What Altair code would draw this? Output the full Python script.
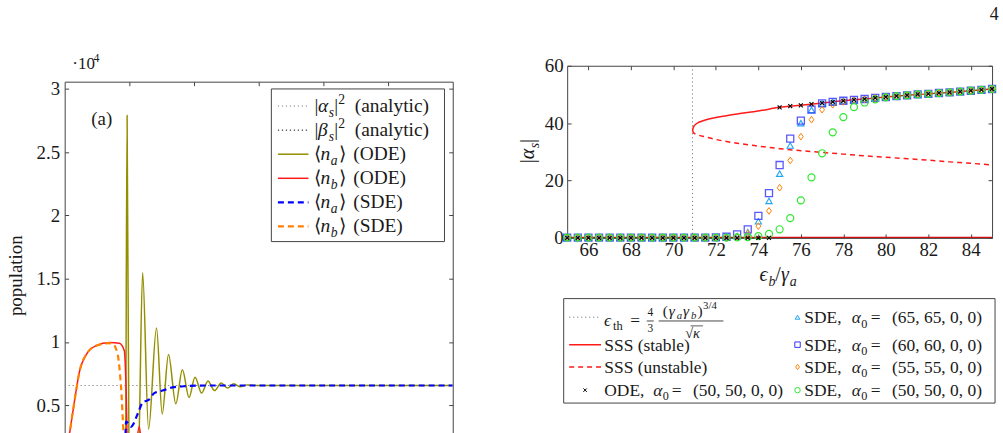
import altair as alt
import pandas as pd

FONT = "Liberation Serif"
INK = "#1a1a1a"
FRAME = "#444444"

# ---------------- left panel (a): populations, units of 1e4 ----------------
T_TICKS = [1, 2, 3, 4, 5]
POP_TICKS = [0.5, 1.0, 1.5, 2.0, 2.5, 3.0]
T_DOMAIN = [0, 6]
POP_DOMAIN = [0.28, 3.058]

t_alpha_an = [0.0, 6.0]
v_alpha_an = [0.655, 0.655]
t_beta_an = [0.0, 6.0]
v_beta_an = [0.12, 0.12]

t_na_ode = [0.0, 0.5, 0.9, 0.94, 0.965, 0.995, 1.06, 1.14, 1.205, 1.297, 1.42, 1.508,
            1.605, 1.718, 1.82, 1.923, 2.015, 2.118, 2.215, 2.318, 2.42, 2.518, 2.615,
            2.715, 2.815, 3.0, 6.0]
v_na_ode = [0.0, 0.0, 0.02, 0.05, 2.79, 0.05, 0.02, 0.12, 1.547, 0.31, 1.11, 0.43,
            0.90, 0.51, 0.78, 0.56, 0.72, 0.595, 0.69, 0.615, 0.675, 0.635, 0.668,
            0.645, 0.66, 0.655, 0.655]

t_nb_ode = [0.0, 0.077, 0.154, 0.231, 0.333, 0.487, 0.692, 0.846, 0.923, 0.949, 0.975,
            1.06, 1.154, 1.22, 1.5, 6.0]
v_nb_ode = [0.0, 0.28, 0.54, 0.77, 0.90, 0.97, 0.995, 0.99, 0.93, 0.64, 0.1,
            0.03, 0.33, 0.03, 0.1, 0.1]

t_na_sde = [0.0, 0.9, 0.93, 0.949, 1.026, 1.128, 1.205, 1.308, 1.385, 1.513, 1.667,
            1.872, 2.2, 6.0]
v_na_sde = [0.0, 0.02, 0.1, 0.37, 0.33, 0.43, 0.52, 0.545, 0.595, 0.615, 0.64,
            0.65, 0.655, 0.655]

t_nb_sde = [0.0, 0.077, 0.154, 0.231, 0.333, 0.487, 0.692, 0.743, 0.82, 0.872, 0.923,
            1.0, 6.0]
v_nb_sde = [0.0, 0.28, 0.54, 0.77, 0.90, 0.97, 0.99, 0.985, 0.90, 0.64, 0.2,
            0.08, 0.1]

# ---------------- right panel: |alpha_s| vs eps_b / gamma_a ----------------
EPS_TICKS = [66, 68, 70, 72, 74, 76, 78, 80, 82, 84]
ALPHA_TICKS = [0, 20, 40, 60]
E_TH = 70.9

eps = [65.0, 65.5, 66.0, 66.5, 67.0, 67.5, 68.0, 68.5, 69.0, 69.5, 70.0, 70.5, 71.0,
       71.5, 72.0, 72.5, 73.0, 73.5, 74.0, 74.5, 75.0, 75.5, 76.0, 76.5, 77.0, 77.5,
       78.0, 78.5, 79.0, 79.5, 80.0, 80.5, 81.0, 81.5, 82.0, 82.5, 83.0, 83.5, 84.0,
       84.5, 85.0]
ode = [0.0] * 20 + [45.5, 45.9, 46.2, 46.6, 47.0, 47.4, 47.8, 48.1, 48.4, 48.8, 49.1,
                    49.4, 49.7, 50.0, 50.2, 50.5, 50.7, 51.0, 51.3, 51.6, 51.9]
sde65 = [0.1] * 15 + [0.2, 0.6, 2.0, 5.8, 12.9, 22.4, 32.2, 40.0, 44.6, 46.8,
                      47.4, 47.8, 48.1, 48.4, 48.8, 49.1, 49.4, 49.7, 50.0, 50.2,
                      50.5, 50.7, 51.0, 51.3, 51.6, 51.9]
sde60 = [0.1] * 14 + [0.2, 0.4, 1.2, 3.0, 7.7, 15.6, 25.4, 34.6, 40.9, 44.7, 46.9,
                      47.4, 47.8, 48.1, 48.4, 48.8, 49.1, 49.4, 49.7, 50.0, 50.2,
                      50.5, 50.7, 51.0, 51.3, 51.6, 51.9]
sde55 = [0.1] * 16 + [0.4, 1.6, 4.1, 9.4, 17.5, 27.0, 35.3, 41.2, 44.7,
                      46.4, 47.4, 47.9, 48.3,
                      48.8, 49.1, 49.4, 49.7, 50.0, 50.2, 50.5, 50.7, 51.0, 51.3, 51.6, 51.9]
sde50 = [0.1] * 16 + [0.2, 0.3, 0.6, 1.4, 3.0, 6.9, 13.1, 21.1, 29.5, 36.8, 42.1, 45.6,
                      47.2, 48.3, 49.0,
                      49.4, 49.7, 50.0, 50.2, 50.5, 50.7, 51.0, 51.3, 51.6, 51.9]

eps_stable = [70.9, 70.95, 71.05, 71.2, 71.5, 72.0, 72.5, 73.0, 74.0, 75.0, 76.0, 77.0,
              78.0, 79.0, 80.0, 81.0, 82.0, 83.0, 84.0, 85.0]
a_stable = [37.5, 38.7, 39.6, 40.3, 41.1, 42.0, 42.6, 43.2, 44.2, 45.5, 46.2, 47.0,
            47.8, 48.4, 49.1, 49.7, 50.2, 50.7, 51.3, 51.9]
eps_unstable = [70.9, 70.95, 71.12, 71.5, 72.0, 73.0, 74.0, 75.0, 76.0, 77.0, 78.0,
                79.0, 80.0, 81.0, 82.0, 83.0, 84.0, 85.0]
a_unstable = [37.5, 36.6, 36.0, 35.2, 34.3, 33.0, 32.0, 31.1, 30.4, 29.8, 29.2,
              28.6, 28.1, 27.6, 27.1, 26.5, 26.0, 25.4]
eps_zero = [65.0, 85.0]
a_zero = [0.0, 0.0]

OLIVE = "#948f00"
RED = "#ff1a1a"
BLUE = "#0000ff"
ORANGE = "#ff8000"
CYAN = "#22a6f2"
SQBLUE = "#3030ff"
GREEN = "#2ee82e"

# ---------------- text helpers ----------------
REG = {' ': .25, '(': .333, ')': .333, ',': .25, '.': .25, '/': .278, '=': .564, '|': .2,
       '·': .25, 'A': .722, 'D': .722, 'E': .611, 'O': .722, 'S': .556,
       'a': .444, 'b': .5, 'c': .444, 'd': .5, 'e': .444, 'h': .5, 'i': .278, 'l': .278,
       'n': .5, 'o': .5, 'p': .5, 's': .389, 't': .278, 'u': .5, 'y': .5,
       'α': .55, 'β': .5, 'γ': .45, 'κ': .5, 'ϵ': .45, '√': .55, '⟨': .39, '⟩': .39}
ITA = {'a': .5, 'b': .5, 'h': .5, 'n': .5, 's': .389, 't': .278,
       'α': .55, 'β': .5, 'γ': .45, 'κ': .5, 'ϵ': .45}
DUMMY = pd.DataFrame({'k': [0]})


def width(s, size, italic):
    tbl = ITA if italic else REG
    return sum(tbl.get(c, REG.get(c, .5)) for c in s) * size


def txt(s, x, y, size, italic=False, align='left', baseline='alphabetic', angle=None,
        color=INK):
    kw = dict(text=s, fontSize=size, font=FONT, align=align, baseline=baseline, color=color)
    if italic:
        kw['fontStyle'] = 'italic'
    if angle is not None:
        kw['angle'] = angle
    return alt.Chart(DUMMY).mark_text(**kw).encode(x=alt.value(x), y=alt.value(y))


def seg_style(kind, size):
    italic = kind.startswith('i')
    if kind.endswith('sub'):
        return italic, size * 0.7, size * 0.25
    if kind.endswith('sup'):
        return italic, size * 0.7, -size * 0.4
    return italic, size, 0.0


def rich_width(segs, size):
    w = 0
    for s, kind in segs:
        it, sz, _ = seg_style(kind, size)
        w += width(s, sz, it)
    return w


def rich(segs, x0, y0, size, center=False):
    out = []
    x = x0 - rich_width(segs, size) / 2 if center else x0
    for s, kind in segs:
        it, sz, dy = seg_style(kind, size)
        lead = len(s) - len(s.lstrip(' '))
        body = s.lstrip(' ')
        out.append(txt(body, x + width(' ' * lead, sz, it), y0 + dy, sz, it))
        x += width(s, sz, it)
    return out


def place(items, y0, size, ox=0.0, oy=0.0):
    """items: (text, absolute x, kind) pieces of one line of mixed text."""
    out = []
    for s, x, kind in items:
        it, sz, dy = seg_style(kind, size)
        out.append(txt(s, x - ox, y0 - oy + dy, sz, it))
    return out


def rich_rot(segs, xb, y0, size):
    out = []
    y = y0
    for s, kind in segs:
        it, sz, dy = seg_style(kind, size)
        out.append(txt(s, xb + dy, y, sz, it, angle=270))
        y -= width(s, sz, it)
    return out


def hline(x1, x2, y, color, dash=None, w=1.0):
    kw = dict(color=color, strokeWidth=w)
    if dash:
        kw['strokeDash'] = dash
    return alt.Chart(DUMMY).mark_rule(**kw).encode(
        x=alt.value(x1), x2=alt.value(x2), y=alt.value(y))


def sym(x, y, shape, size, color, sw=1.0):
    return alt.Chart(DUMMY).mark_point(shape=shape, size=size, filled=False, color=color,
                                       strokeWidth=sw, opacity=1).encode(
        x=alt.value(x), y=alt.value(y))


def box(x1, x2, y1, y2):
    return alt.Chart(DUMMY).mark_rect(fill='white', stroke=FRAME, strokeWidth=1).encode(
        x=alt.value(x1), x2=alt.value(x2), y=alt.value(y1), y2=alt.value(y2))


LBL = dict(labelFont=FONT, labelFontSize=19, labelColor=INK, labelFlush=False,
           labelOverlap=False)


def tick_axis(orient, values, labels=False, fmt=None, pad=4):
    kw = dict(orient=orient, offset=-4, tickSize=4, ticks=True, domain=False, values=values,
              labels=labels, title=None, grid=False, tickColor=FRAME, tickWidth=1)
    if labels:
        kw.update(LBL)
        kw['labelPadding'] = pad
        if fmt:
            kw['format'] = fmt
    return alt.Axis(**kw)


def dom_axis(orient):
    return alt.Axis(orient=orient, offset=0, domain=True, ticks=False, labels=False,
                    title=None, grid=False, domainColor=FRAME, domainWidth=1)


CROSS = "M-1,-1L1,1M-1,1L1,-1"
DIAMOND = "M0,-1L0.72,0L0,1L-0.72,0Z"

# ---------------- left chart ----------------
LX, LY = 65.0, 80.0
xsL = alt.Scale(domain=T_DOMAIN, nice=False, zero=False)
ysL = alt.Scale(domain=POP_DOMAIN, nice=False, zero=False)


def lline(t, v, color, dash=None, w=1.5):
    kw = dict(color=color, strokeWidth=w, clip=True, interpolate='monotone')
    if dash:
        kw['strokeDash'] = dash
    df = pd.DataFrame({'t': t, 'v': v})
    return alt.Chart(df).mark_line(**kw).encode(
        x=alt.X('t:Q', scale=xsL, axis=None), y=alt.Y('v:Q', scale=ysL, axis=None),
        order='t:Q')


left_layers = [
    lline(t_alpha_an, v_alpha_an, '#808080', [1.2, 2.8], 1.0),
    lline(t_beta_an, v_beta_an, '#000000', [1.2, 2.8], 1.0),
    lline(t_na_ode, v_na_ode, OLIVE, None, 1.5),
    lline(t_nb_ode, v_nb_ode, RED, None, 1.5),
    lline(t_na_sde, v_na_sde, BLUE, [6, 4], 2.2),
    lline(t_nb_sde, v_nb_sde, ORANGE, [6, 4], 2.2),
]

# legend of panel (a)
left_layers.append(box(272.7 - LX, 446.7 - LX, 87.3 - LY, 240.7 - LY))


def abs_pieces(sym1, sub, tail):
    if sym1 in ('α', 'β'):
        return [("|", 316.0, 'r'), (sym1, 319.5, 'i'), ("s", 330.5, 'isub'),
                ("|", 336.0, 'r'), ("2", 340.0, 'sup'), (tail, 356.5, 'r')]
    return [("⟨", 316.0, 'r'), ("n", 322.0, 'i'), (sub, 332.5, 'isub'),
            ("⟩", 341.0, 'r'), (tail, 355.0, 'r')]


leg_rows = [
    ('#808080', [1.2, 2.8], 1.0, abs_pieces('α', 's', "(analytic)")),
    ('#000000', [1.2, 2.8], 1.0, abs_pieces('β', 's', "(analytic)")),
    (OLIVE, None, 1.5, abs_pieces('n', 'a', "(ODE)")),
    (RED, None, 1.5, abs_pieces('n', 'b', "(ODE)")),
    (BLUE, [6, 4], 2.2, abs_pieces('n', 'a', "(SDE)")),
    (ORANGE, [6, 4], 2.2, abs_pieces('n', 'b', "(SDE)")),
]
for i, (col, dash, w, pieces) in enumerate(leg_rows):
    yy = 104.5 + 24.2 * i
    left_layers.append(hline(279.3 - LX, 310.0 - LX, yy - LY, col, dash, w))
    left_layers += place(pieces, yy + 6.0, 19.5, LX, LY)

left_layers.append(txt("(a)", 91.7 - LX, 123.5 - LY, 19))
left_layers += rich([("·10", 'r'), ("4", 'sup')], 72.7 - LX, 67.0 - LY, 17)
left_layers.append(txt("population", 16.0 - LX, 275.0 - LY, 19, align='center',
                       baseline='middle', angle=270))

axdfL = pd.DataFrame({'t': [0.0], 'v': [1.0]})


def laxis(xa, ya):
    return alt.Chart(axdfL).mark_point(opacity=0).encode(
        x=alt.X('t:Q', scale=xsL, axis=xa), y=alt.Y('v:Q', scale=ysL, axis=ya))


left_layers += [
    laxis(tick_axis('top', T_TICKS), tick_axis('left', POP_TICKS, True, '~g', 5)),
    laxis(dom_axis('top'), dom_axis('left')),
    laxis(None, tick_axis('right', POP_TICKS)),
    laxis(None, dom_axis('right')),
]

left = alt.layer(*left_layers).resolve_axis(x='independent', y='independent').properties(
    width=390, height=353, view=alt.ViewBackground(stroke='transparent'))

spacer = alt.Chart(DUMMY).mark_point(opacity=0).encode(
    x=alt.value(0), y=alt.value(0)).properties(
    width=390, height=1, view=alt.ViewBackground(stroke='transparent'))
left_col = alt.vconcat(spacer, left, spacing=15, bounds='flush')

# ---------------- right chart ----------------
RX, RY = 566.0, 64.0
xsR = alt.Scale(domain=[65, 85], nice=False, zero=False)
ysR = alt.Scale(domain=[0, 60], nice=False, zero=False)


def rline(e, a, color, dash=None, w=1.5):
    kw = dict(color=color, strokeWidth=w, clip=True, interpolate='monotone')
    if dash:
        kw['strokeDash'] = dash
    df = pd.DataFrame({'e': e, 'a': a})
    return alt.Chart(df).mark_line(**kw).encode(
        x=alt.X('e:Q', scale=xsR, axis=None), y=alt.Y('a:Q', scale=ysR, axis=None),
        order='e:Q')


def rpts(vals, shape, size, color, sw=1.0, op=1.0):
    df = pd.DataFrame({'e': eps, 'a': vals})
    return alt.Chart(df).mark_point(shape=shape, size=size, filled=False, color=color,
                                    strokeWidth=sw, opacity=op).encode(
        x=alt.X('e:Q', scale=xsR, axis=None), y=alt.Y('a:Q', scale=ysR, axis=None))


th_df = pd.DataFrame({'e': [E_TH], 'lo': [0.0], 'hi': [60.0]})
right_layers = [
    alt.Chart(th_df).mark_rule(color='#808080', strokeDash=[1.2, 2.8], strokeWidth=1).encode(
        x=alt.X('e:Q', scale=xsR, axis=None), y=alt.Y('lo:Q', scale=ysR, axis=None),
        y2='hi:Q'),
    rline(eps_zero, a_zero, '#d01010', None, 2.4),
    rline(eps_stable, a_stable, RED, None, 1.5),
    rline(eps_unstable, a_unstable, RED, [5, 4], 1.5),
    rpts(sde65, 'triangle-up', 40, CYAN, 1.1),
    rpts(sde60, 'square', 50, SQBLUE, 1.3, 0.8),
    rpts(sde55, DIAMOND, 45, ORANGE, 1.0),
    rpts(sde50, 'circle', 50, GREEN, 1.2),
    rpts(ode, CROSS, 16, '#000000', 1.1),
]

right_layers += rich([("ϵ", 'i'), ("b", 'isub'), ("/", 'r'), ("γ", 'i'), ("a", 'isub')],
                     778.0 - RX, 280.0 - RY, 20, center=True)
right_layers += rich_rot([("|", 'r'), ("α", 'i'), ("s", 'isub'), ("|", 'r')],
                         533.0 - RX, 162.0 - RY, 20)

axdfR = pd.DataFrame({'e': [65.0], 'a': [0.0]})


def raxis(xa, ya):
    return alt.Chart(axdfR).mark_point(opacity=0).encode(
        x=alt.X('e:Q', scale=xsR, axis=xa), y=alt.Y('a:Q', scale=ysR, axis=ya))


right_layers += [
    raxis(tick_axis('bottom', EPS_TICKS, True, 'd', 3), tick_axis('left', ALPHA_TICKS, True, 'd', 4)),
    raxis(tick_axis('top', EPS_TICKS), tick_axis('right', ALPHA_TICKS)),
]

right = alt.layer(*right_layers).resolve_axis(x='independent', y='independent').properties(
    width=427, height=173)

# ---------------- right legend ----------------
OX, OY = 566.0, 298.0
FS = 17.5
lg = [box(562.5 - OX, 996.0 - OX, 298.0 - OY, 403.0 - OY)]
# row 1, column 1: threshold formula
lg.append(hline(568 - OX, 600 - OX, 316.7 - OY, '#808080', [1.2, 2.8], 1.0))
lg.append(txt("ϵ", 603.0 - OX, 325.5 - OY, FS, True))
lg.append(txt("th", 612.0 - OX, 329.5 - OY, 12.5))
lg.append(txt("=", 629.5 - OX, 325.5 - OY, FS))
lg.append(txt("4", 649.5 - OX, 315.5 - OY, 11.5, align='center'))
lg.append(txt("3", 649.5 - OX, 331.5 - OY, 11.5, align='center'))
lg.append(hline(646.0 - OX, 653.0 - OX, 320.5 - OY, INK, None, 0.8))
lg += place([("(", 662.0, 'r'), ("γ", 668.0, 'i'), ("a", 676.0, 'isub'), ("γ", 682.5, 'i'),
             ("b", 690.5, 'isub'), (")", 697.0, 'r'), ("3/4", 702.5, 'sup')],
            315.0, 15.5, OX, OY)
lg.append(hline(658.0 - OX, 723.0 - OX, 320.5 - OY, INK, None, 0.8))
lg.append(txt("√κ", 692.0 - OX, 337.5 - OY, 14.5, True, align='center'))
lg.append(hline(690.0 - OX, 702.5 - OX, 325.4 - OY, INK, None, 0.7))
# rows 2-4, column 1
lg.append(hline(568 - OX, 600 - OX, 344.3 - OY, RED, None, 1.5))
lg.append(txt("SSS (stable)", 603.3 - OX, 350.3 - OY, FS))
lg.append(hline(568 - OX, 600 - OX, 366.7 - OY, RED, [5, 4], 1.5))
lg.append(txt("SSS (unstable)", 603.3 - OX, 372.7 - OY, FS))
lg.append(sym(584 - OX, 390 - OY, CROSS, 12, '#000000', 1.0))
lg += place([("ODE,", 603.3, 'r'), ("α", 652.5, 'i'), ("0", 662.0, 'sub'), ("=", 671.0, 'r'),
             ("(50, 50, 0, 0)", 692.5, 'r')], 396.0, FS, OX, OY)
# column 2
col2 = [
    (316.7, 'triangle-up', 22, CYAN, "65"),
    (344.3, 'square', 30, SQBLUE, "60"),
    (366.7, DIAMOND, 28, ORANGE, "55"),
    (390.0, 'circle', 30, GREEN, "50"),
]
for yy, shp, sz, colr, n in col2:
    lg.append(sym(797.5 - OX, yy - OY, shp, sz, colr, 1.0))
    lg += place([("SDE,", 804.3, 'r'), ("α", 852.0, 'i'), ("0", 861.5, 'sub'),
                 ("=", 871.0, 'r'), (f"({n}, {n}, 0, 0)", 892.5, 'r')],
                yy + 6.0, FS, OX, OY)

legend = alt.layer(*lg).properties(width=427, height=105,
                                   view=alt.ViewBackground(stroke='transparent'))

right_col = alt.vconcat(right, legend, spacing=61, bounds='flush')

chart = alt.hconcat(left_col, right_col, spacing=64).properties(
    title=alt.TitleParams("4", anchor='end', font=FONT, fontSize=18, fontWeight='normal',
                          color=INK, offset=28),
    padding={'left': 6, 'top': 4, 'right': 4, 'bottom': 0},
).configure_view(stroke=FRAME, strokeWidth=1)

chart.save("out.html", embed_options={"renderer": "svg", "actions": False})
